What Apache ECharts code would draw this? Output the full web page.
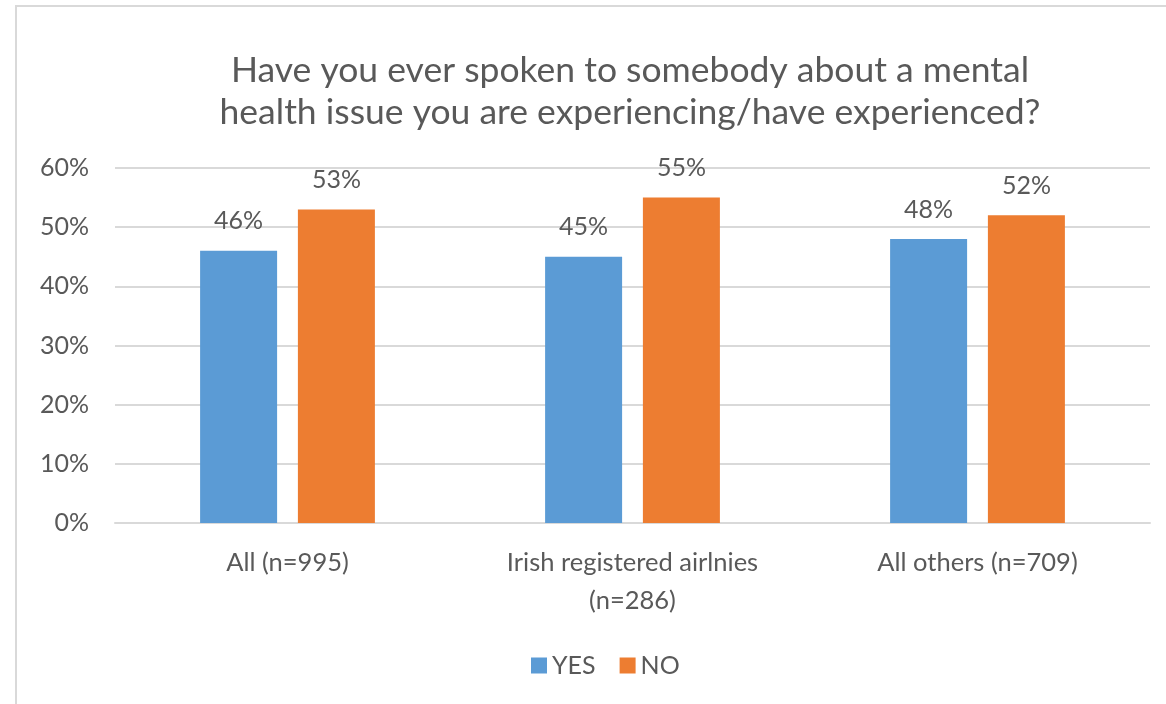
<!DOCTYPE html>
<html>
<head>
<meta charset="utf-8">
<script src="https://cdn.jsdelivr.net/npm/echarts@6/dist/echarts.min.js"></script>
<style>
  html, body { margin: 0; padding: 0; background: #fff; }
  #chart { width: 1166px; height: 704px; }
</style>
</head>
<body>
<div id="chart"></div>
<script>
// data
const categories = ['All (n=995)', 'Irish registered airlnies\n(n=286)', 'All others (n=709)'];
const yesValues = [46, 45, 48];
const noValues = [53, 55, 52];
const yTicks = [0, 10, 20, 30, 40, 50, 60];

const FONT = 'Lato';
const TXT = '#595959';

const chart = echarts.init(document.getElementById('chart'));
const option = {
  backgroundColor: '#fff',
  animation: false,
  textStyle: { fontFamily: FONT },
  title: {
    text: 'Have you ever spoken to somebody about a mental\nhealth issue you are experiencing/have experienced?',
    left: 625,
    textAlign: 'center',
    top: 45,
    textStyle: { fontFamily: FONT, fontSize: 35.5, fontWeight: 'normal', color: TXT, lineHeight: 42 }
  },
  legend: {
    data: ['YES', 'NO'],
    left: 526,
    top: 648,
    itemWidth: 16,
    itemHeight: 16,
    itemGap: 24,
    icon: 'rect',
    textStyle: { fontFamily: FONT, fontSize: 25, color: TXT }
  },
  grid: { left: 115, right: 16, top: 168, bottom: 181, containLabel: false },
  xAxis: {
    type: 'category',
    data: categories,
    axisLine: { lineStyle: { color: '#d9d9d9', width: 2 } },
    axisTick: { show: false },
    axisLabel: { fontFamily: FONT, fontSize: 25.5, color: TXT, margin: 21, lineHeight: 38 }
  },
  yAxis: {
    type: 'value',
    min: yTicks[0],
    max: yTicks[yTicks.length - 1],
    interval: 10,
    axisLine: { show: false },
    axisTick: { show: false },
    splitLine: { lineStyle: { color: '#d9d9d9', width: 2 } },
    axisLabel: { fontFamily: FONT, fontSize: 25, color: TXT, margin: 26, formatter: v => v + '%' }
  },
  series: [
    {
      name: 'YES', type: 'bar', data: yesValues,
      barWidth: 77, barGap: '27%',
      itemStyle: { color: '#5b9bd5' },
      label: { show: true, position: 'top', distance: 17, fontFamily: FONT, fontSize: 25, color: TXT, formatter: p => p.value + '%' }
    },
    {
      name: 'NO', type: 'bar', data: noValues,
      barWidth: 77,
      itemStyle: { color: '#ed7d31' },
      label: { show: true, position: 'top', distance: 17, fontFamily: FONT, fontSize: 25, color: TXT, formatter: p => p.value + '%' }
    }
  ],
  graphic: [
    {
      type: 'polyline',
      shape: { points: [[16, 710], [16, 6], [1170, 6]] },
      style: { stroke: '#d9d9d9', lineWidth: 2, fill: null },
      silent: true
    }
  ]
};
chart.setOption(option);
</script>
</body>
</html>
